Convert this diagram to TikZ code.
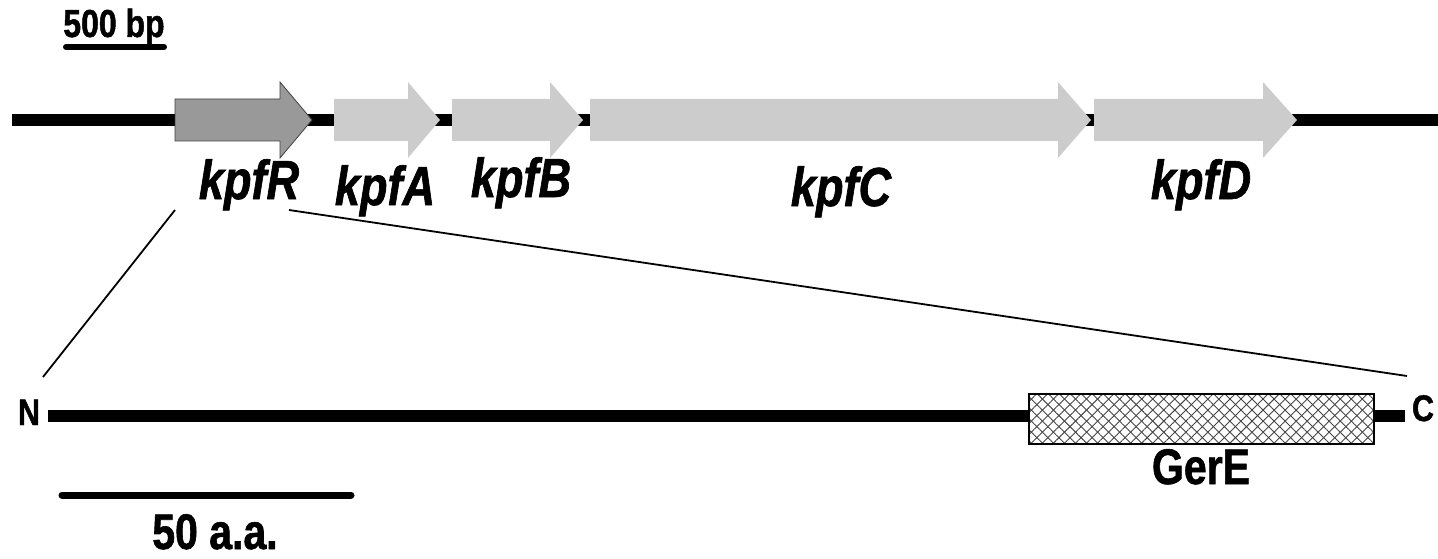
\documentclass[tikz,border=0pt]{standalone}
\usepackage{fontspec}
\setmainfont{Liberation Sans}
\newfontfamily\narrowsans[FakeStretch=0.82, FakeBold=1.2]{Liberation Sans}
\usetikzlibrary{patterns.meta}

\definecolor{regulator}{HTML}{999999}
\definecolor{operon}{HTML}{CCCCCC}
\definecolor{hatch}{HTML}{444444}

\tikzset{
  dna/.style={line width=12.5pt},
  protein/.style={line width=12pt},
  generegulator/.style={fill=regulator, draw=black!75, line width=0.8pt},
  geneoperon/.style={fill=operon},
  genelabel/.style={font=\narrowsans\bfseries\itshape\fontsize{55}{64}\selectfont,
                    anchor=base, inner sep=0pt},
  termlabel/.style={font=\narrowsans\bfseries\fontsize{37}{42}\selectfont, anchor=base, inner sep=0pt},
  barlabel/.style={font=\narrowsans\bfseries\fontsize{39}{46}\selectfont, anchor=base, inner sep=0pt},
  scalelabel/.style={font=\narrowsans\bfseries\fontsize{50}{58}\selectfont, anchor=base, inner sep=0pt},
  domainlabel/.style={font=\narrowsans\bfseries\fontsize{50}{58}\selectfont, anchor=base, inner sep=0pt},
  zoomline/.style={line width=1.8pt},
  scalebar/.style={line cap=round},
  domainbox/.style={draw=black, line width=2pt}
}

% gene arrow: style, body start, head base, tip
\newcommand\genearrow[4][geneoperon]{%
  \path[#1] (#2,99) -- (#3,99) -- (#3,82) -- (#4,120) -- (#3,158)
            -- (#3,141) -- (#2,141) -- cycle;}

\begin{document}
\begin{tikzpicture}[x=1pt,y=-1pt]
  \useasboundingbox (0,0) rectangle (1438,559);

  % 500 bp scale bar
  \node[barlabel] (bp) at (114,37) {500 bp};
  \coordinate (bpL) at (66,47);
  \coordinate (bpR) at (164,47);
  \draw[scalebar, line width=6pt] (bpL) -- (bpR);

  % locus backbone
  \coordinate (dnaL) at (12,120);
  \coordinate (dnaR) at (1438,120);
  \draw[dna] (dnaL) -- (dnaR);

  % genes
  \genearrow[generegulator]{175}{280}{312}
  \genearrow{334}{408}{440}
  \genearrow{452}{550}{583}
  \genearrow{590}{1058}{1091}
  \genearrow{1094}{1263}{1297}

  \node[genelabel] (kpfR) at (249,199) {kpfR};
  \node[genelabel] (kpfA) at (385,205) {kpfA};
  \node[genelabel] (kpfB) at (521,197) {kpfB};
  \node[genelabel] (kpfC) at (841,206) {kpfC};
  \node[genelabel] (kpfD) at (1201,199) {kpfD};

  % expansion of kpfR into the protein
  \coordinate (zoomTL) at (175,210);
  \coordinate (zoomTR) at (289,210);
  \coordinate (zoomBL) at (43,377);
  \coordinate (zoomBR) at (1407,376);
  \draw[zoomline] (zoomTL) -- (zoomBL);
  \draw[zoomline] (zoomTR) -- (zoomBR);

  % protein backbone
  \coordinate (protL) at (48,416);
  \coordinate (protR) at (1405,416);
  \draw[protein] (protL) -- (protR);
  \node[termlabel] (N) at (29,425) {N};
  \node[termlabel] (C) at (1423,421) {C};

  % GerE domain
  \fill[white] (1028,393) rectangle (1373,443);
  \fill[pattern={Lines[angle=45,distance=7.8pt,line width=0.9pt]}, pattern color=hatch]
       (1028,393) rectangle (1373,443);
  \fill[pattern={Lines[angle=-45,distance=7.8pt,line width=0.9pt]}, pattern color=hatch]
       (1028,393) rectangle (1373,443);
  \node[domainbox, minimum width=345pt, minimum height=50pt, inner sep=0pt, anchor=north west]
       (gerEbox) at (1028,393) {};
  \node[domainlabel] (gerE) at (1201,484) {GerE};

  % 50 a.a. scale bar
  \coordinate (aaL) at (62,495);
  \coordinate (aaR) at (351,495);
  \draw[scalebar, line width=7pt] (aaL) -- (aaR);
  \node[scalelabel] (aa) at (215,549) {50 a.a.};
\end{tikzpicture}
\end{document}
